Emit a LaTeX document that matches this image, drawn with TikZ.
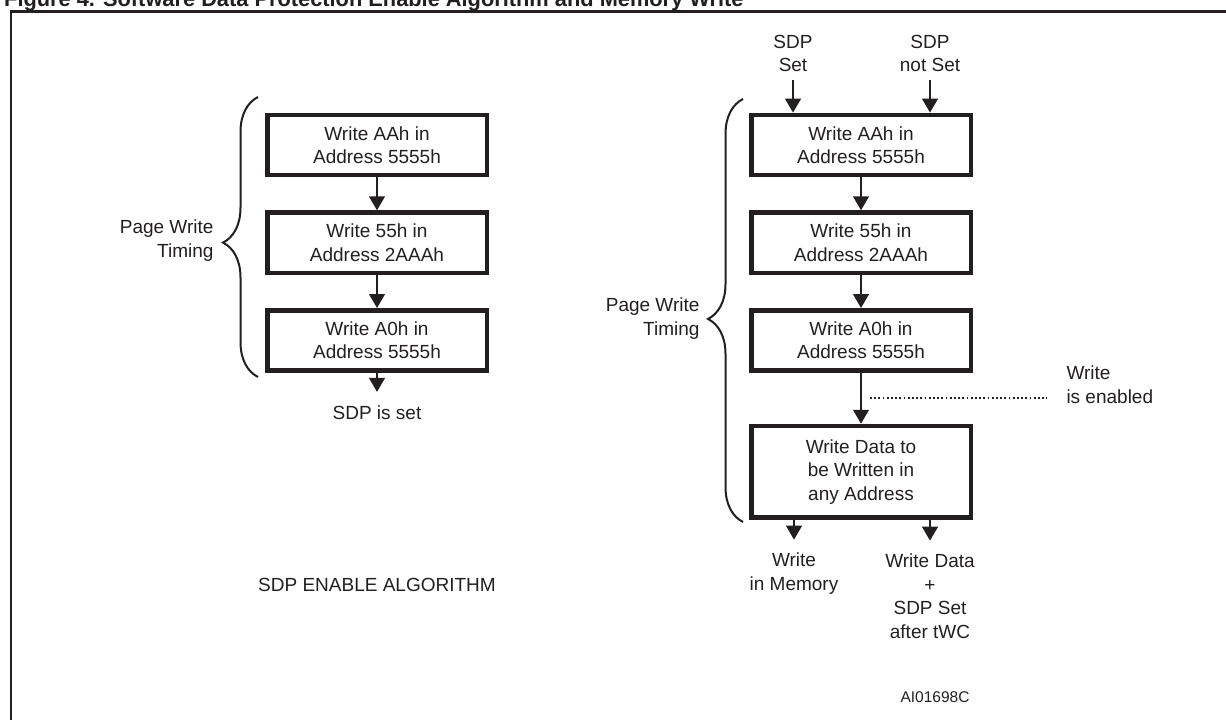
\documentclass[tikz,border=0pt]{standalone}
\usepackage{fontspec}
\setmainfont{Liberation Sans}
\usetikzlibrary{positioning,calc,arrows.meta,decorations.pathreplacing}
\definecolor{ink}{HTML}{231F20}
\tikzset{
  stepbox/.style={draw=ink, line width=4.5pt, minimum width=219.5pt,
    minimum height=60.2pt, align=center, inner sep=2pt},
  flow/.style={draw=ink, line width=2.8pt, -{Triangle[width=15.5pt,length=14pt]}},
  brc/.style={draw=ink, line width=2pt, decorate,
    decoration={brace, amplitude=35pt, aspect=0.48}},
  lbl/.style={align=center, inner sep=3.3pt},
}
\begin{document}
\begin{tikzpicture}[x=1pt, y=-1pt, font=\fontsize{19}{23.5}\selectfont, text=ink]
  \useasboundingbox (0,0) rectangle (1226,720);
  \clip (0,0) rectangle (1226,720);
  % title and frame
  \node[anchor=base west, inner sep=0pt, font=\fontsize{21.8}{26}\selectfont\bfseries]
    (title) at (4,6) {Figure 4. Software Data Protection Enable Algorithm and Memory Write};
  \draw[ink, line width=2.7pt] (11,740) -- (11,11.3) -- (1240,11.3);
  % left: sdp enable algorithm
  \node[stepbox] (l1) at (377,145) {Write AAh in\\Address 5555h};
  \node[stepbox, below=33pt of l1] (l2) {Write 55h in\\Address 2AAAh};
  \node[stepbox, below=33pt of l2] (l3) {Write A0h in\\Address 5555h};
  \node[lbl] (lset) at (377,413) {SDP is set};
  \draw[flow] (l1) -- (l2);
  \draw[flow] (l2) -- (l3);
  \draw[flow, shorten >=10.6pt] (l3) -- (lset);
  \draw[brc] (258,377) -- (258,97);
  \node[lbl, anchor=east, align=right] (lpw) at (217,240.5) {Page Write\\Timing};
  \node[lbl] (lalg) at (377,585) {SDP ENABLE ALGORITHM};
  % right: memory write
  \node[lbl] (sset) at (793,53.5) {SDP\\Set};
  \node[lbl] (snot) at (930,53.5) {SDP\\not Set};
  \node[stepbox] (r1) at (861,145) {Write AAh in\\Address 5555h};
  \node[stepbox, below=33pt of r1] (r2) {Write 55h in\\Address 2AAAh};
  \node[stepbox, below=33pt of r2] (r3) {Write A0h in\\Address 5555h};
  \node[stepbox, minimum height=91.5pt, below=51pt of r3] (r4)
    {Write Data to\\be Written in\\any Address};
  \draw[flow, shorten <=5pt] (sset) -- (sset |- r1.north);
  \draw[flow, shorten <=5pt] (snot) -- (snot |- r1.north);
  \draw[flow] (r1) -- (r2);
  \draw[flow] (r2) -- (r3);
  \draw[flow] (r3) -- (r4);
  % write enabled mark
  \coordinate (wen) at ($(r3.south)!0.5!(r4.north)$);
  \node[lbl, anchor=west, align=left] (wtxt) at (1063,384.5) {Write\\is enabled};
  \draw[ink, line width=2pt, dash pattern=on 1.8pt off 2.4pt, shorten >=16pt]
    ([xshift=9pt]wen) -- (wen -| wtxt.west);
  % outputs
  \node[lbl] (rmem) at (794,573.4) {Write\\in Memory};
  \node[lbl] (rdat) at (930,596) {Write Data\\+\\SDP Set\\after tWC};
  \draw[flow, shorten >=9.6pt] (r4.south -| rmem) -- (rmem);
  \draw[flow, shorten >=9.6pt] (r4.south -| rdat) -- (rdat);
  \draw[brc] (743,522) -- (743,99);
  \node[lbl, anchor=east, align=right] (rpw) at (703,318.5) {Page Write\\Timing};
  \node[lbl, font=\fontsize{15.5}{18}\selectfont] (code) at (935,697) {AI01698C};
\end{tikzpicture}
\end{document}
